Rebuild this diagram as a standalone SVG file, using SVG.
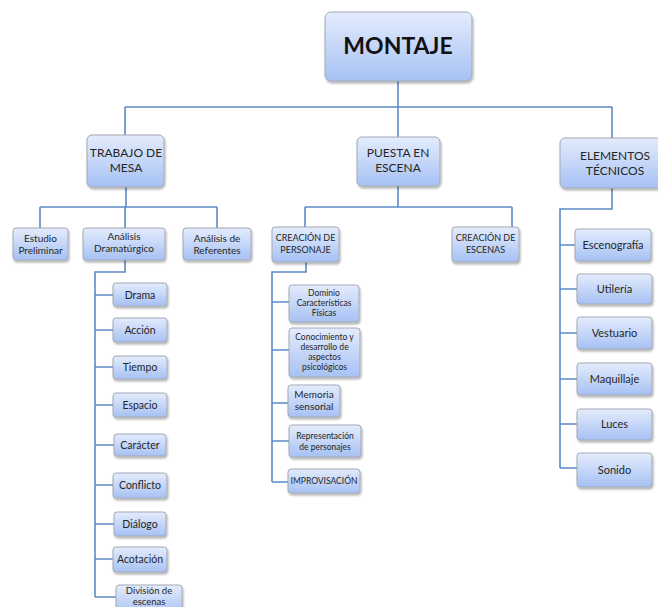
<svg xmlns="http://www.w3.org/2000/svg" width="658" height="607" viewBox="0 0 658 607">
<defs>
<linearGradient id="g" x1="0" y1="0" x2="0" y2="1">
<stop offset="0" stop-color="#e4ecfc"/>
<stop offset="1" stop-color="#a6c1f4"/>
</linearGradient>
<filter id="sh" x="-20%" y="-20%" width="140%" height="150%">
<feDropShadow dx="1" dy="2" stdDeviation="1.2" flood-color="#000" flood-opacity="0.3"/>
</filter>
</defs>
<style>
rect{fill:url(#g);stroke:#a3a8b3;stroke-width:1;filter:url(#sh)}
text{font-family:Lato,"Liberation Sans",sans-serif;fill:#262626;text-anchor:middle}
.c path{fill:none;stroke:#5b8ac4;stroke-width:1.6}
</style>
<rect width="658" height="607" fill="#fff" style="fill:#fff;stroke:none;filter:none"/>
<g class="c" id="connectors">
<path d="M398,81V107M125,107H612M125,107V135M398,107V137M612,107V138"/>
<path d="M126,187V207M40,207H217M40,207V228M217,207V228M125,207V228"/>
<path d="M125,260V272H95V597M95,295H113M95,330H113M95,367H113M95,405H113M95,445H114M95,485H113M95,524H114M95,559H113M95,597H116"/>
<path d="M398,186V207M305,207H512M305,207V227M512,207V227"/>
<path d="M306,262V272H272V482M272,302H289M272,350H289M272,403H288M272,441H289M272,482H288"/>
<path d="M612,188V209H560V468M560,245H575M560,289H577M560,333H577M560,379H577M560,424H577M560,468H577"/>
</g>
<g id="montaje"><rect x="325" y="12" width="147" height="69" rx="6"/><text x="398" y="54" font-size="23" font-weight="bold" style="fill:#111">MONTAJE</text></g>
<g id="trabajo"><rect x="87" y="135" width="77" height="52" rx="5"/><text x="126" y="157" font-size="12">TRABAJO DE</text><text x="126" y="172" font-size="12">MESA</text></g>
<g id="puesta"><rect x="357" y="137" width="83" height="49" rx="5"/><text x="398" y="157" font-size="12">PUESTA EN</text><text x="398" y="172" font-size="12">ESCENA</text></g>
<g id="elementos"><rect x="560" y="138" width="110" height="50" rx="5"/><text x="615" y="160" font-size="12">ELEMENTOS</text><text x="615" y="175" font-size="12">TÉCNICOS</text></g>
<g id="estudio"><rect x="13" y="228" width="55" height="32" rx="3"/><text x="40.5" y="242" font-size="10">Estudio</text><text x="40.5" y="254" font-size="10">Preliminar</text></g>
<g id="analisis-dram"><rect x="83" y="228" width="82" height="32" rx="3"/><text x="124" y="240" font-size="10">Análisis</text><text x="124" y="252" font-size="10">Dramatúrgico</text></g>
<g id="analisis-ref"><rect x="183" y="228" width="68" height="32" rx="3"/><text x="217" y="242" font-size="10">Análisis de</text><text x="217" y="254" font-size="10">Referentes</text></g>
<g id="drama"><rect x="113" y="283" width="54" height="23" rx="3"/><text x="140" y="299" font-size="10.5">Drama</text></g>
<g id="accion"><rect x="113" y="318" width="54" height="24" rx="3"/><text x="140" y="334" font-size="10.5">Acción</text></g>
<g id="tiempo"><rect x="113" y="356" width="54" height="23" rx="3"/><text x="140" y="371" font-size="10.5">Tiempo</text></g>
<g id="espacio"><rect x="113" y="393" width="54" height="24" rx="3"/><text x="140" y="409" font-size="10.5">Espacio</text></g>
<g id="caracter"><rect x="114" y="434" width="52" height="22" rx="3"/><text x="140" y="449" font-size="10.5">Carácter</text></g>
<g id="conflicto"><rect x="113" y="473" width="54" height="25" rx="3"/><text x="140" y="489" font-size="10.5">Conflicto</text></g>
<g id="dialogo"><rect x="114" y="512" width="52" height="24" rx="3"/><text x="140" y="528" font-size="10.5">Diálogo</text></g>
<g id="acotacion"><rect x="113" y="547" width="54" height="25" rx="3"/><text x="140" y="563" font-size="10.5">Acotación</text></g>
<g id="division"><rect x="116" y="585" width="66" height="30" rx="3"/><text x="149" y="594" font-size="9.5">División de</text><text x="149" y="604.5" font-size="9.5">escenas</text></g>
<g id="creacion-personaje"><rect x="272" y="227" width="67" height="35" rx="3"/><text x="305.5" y="241" font-size="9">CREACIÓN DE</text><text x="305.5" y="253" font-size="9">PERSONAJE</text></g>
<g id="creacion-escenas"><rect x="452" y="227" width="67" height="35" rx="3"/><text x="485.5" y="241" font-size="9">CREACIÓN DE</text><text x="485.5" y="253" font-size="9">ESCENAS</text></g>
<g id="dominio"><rect x="289" y="285" width="70" height="37" rx="3"/><text x="324" y="296" font-size="8.5">Dominio</text><text x="324" y="306" font-size="8.5">Características</text><text x="324" y="316" font-size="8.5">Físicas</text></g>
<g id="conocimiento"><rect x="289" y="328" width="71" height="49" rx="3"/><text x="324.5" y="340" font-size="8.5">Conocimiento y</text><text x="324.5" y="350" font-size="8.5">desarrollo de</text><text x="324.5" y="360" font-size="8.5">aspectos</text><text x="324.5" y="370" font-size="8.5">psicológicos</text></g>
<g id="memoria"><rect x="288" y="385" width="52" height="32" rx="3"/><text x="314" y="398" font-size="10">Memoria</text><text x="314" y="410" font-size="10">sensorial</text></g>
<g id="representacion"><rect x="289" y="425" width="72" height="32" rx="3"/><text x="325" y="439" font-size="8.5">Representación</text><text x="325" y="450" font-size="8.5">de personajes</text></g>
<g id="improvisacion"><rect x="288" y="469" width="72" height="24" rx="3"/><text x="324" y="484" font-size="8.5">IMPROVISACIÓN</text></g>
<g id="escenografia"><rect x="575" y="229" width="76" height="32" rx="3"/><text x="613" y="249" font-size="11">Escenografía</text></g>
<g id="utileria"><rect x="577" y="274" width="75" height="30" rx="3"/><text x="614.5" y="293" font-size="11">Utilería</text></g>
<g id="vestuario"><rect x="577" y="317" width="75" height="32" rx="3"/><text x="614.5" y="337" font-size="11">Vestuario</text></g>
<g id="maquillaje"><rect x="577" y="363" width="75" height="32" rx="3"/><text x="614.5" y="383" font-size="11">Maquillaje</text></g>
<g id="luces"><rect x="577" y="409" width="75" height="31" rx="3"/><text x="614.5" y="428" font-size="11">Luces</text></g>
<g id="sonido"><rect x="577" y="453" width="75" height="34" rx="3"/><text x="614.5" y="474" font-size="11">Sonido</text></g>
</svg>
